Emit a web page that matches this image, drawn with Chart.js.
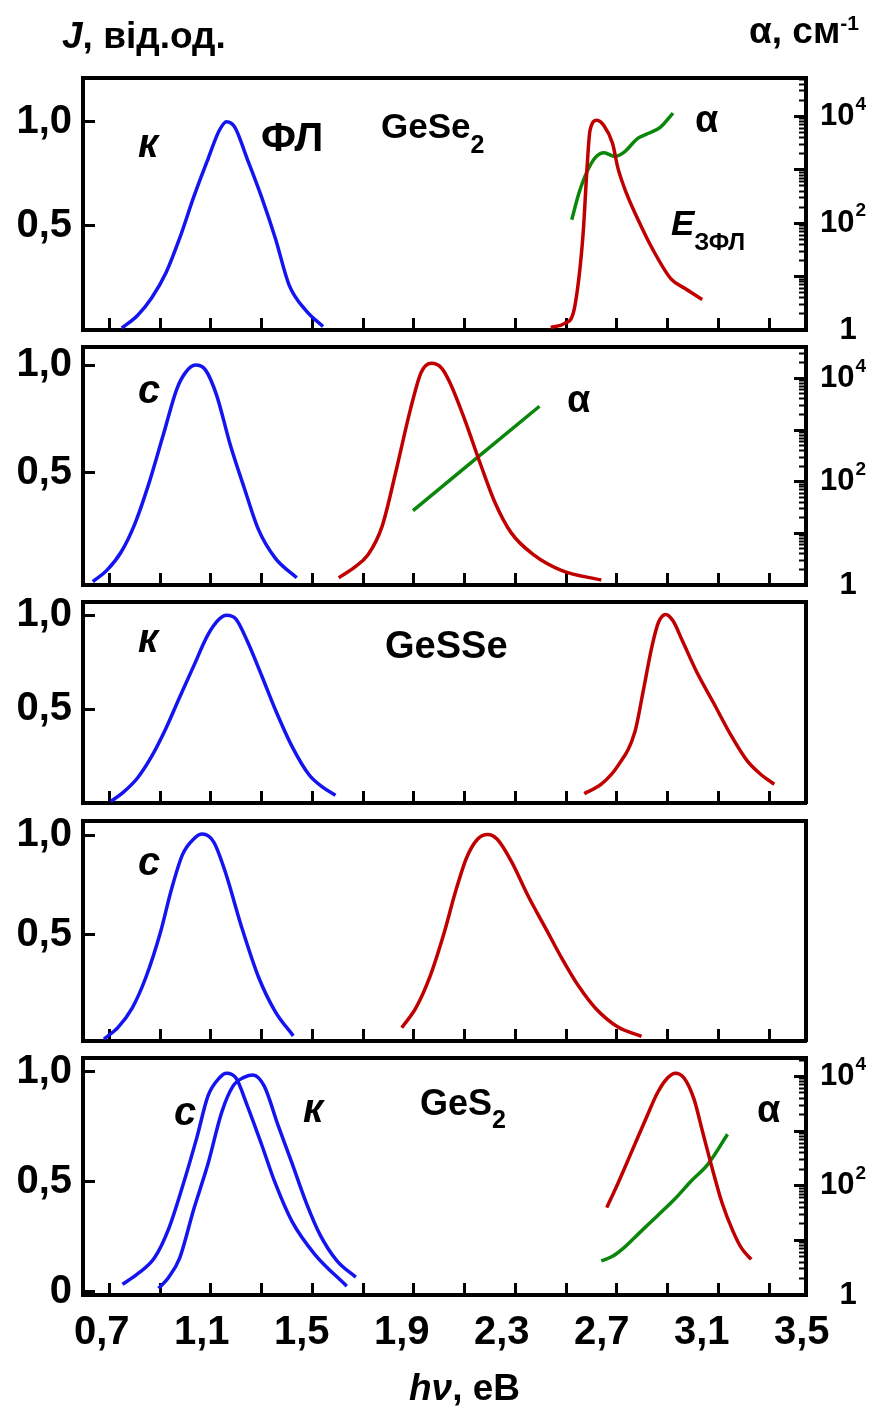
<!DOCTYPE html>
<html>
<head>
<meta charset="utf-8">
<script src="https://cdn.jsdelivr.net/npm/chart.js@4.4.0/dist/chart.umd.min.js"></script>
<style>
  body { margin: 0; background: #fff; }
  #wrap { position: relative; width: 881px; height: 1408px; overflow: hidden;
          font-family: "Liberation Sans", Arial, sans-serif; font-weight: bold; color: #000; }
  canvas { position: absolute; left: 0; }
  .t { position: absolute; white-space: nowrap; line-height: 1; }
  .t span { line-height: 0; }
</style>
</head>
<body>
<div id="wrap"></div>
<script>
// photon energy axis, eV
var xMin = 0.625, xMax = 3.517;
var xLabels = [0.7, 1.1, 1.5, 1.9, 2.3, 2.7, 3.1, 3.5];
// tick marks as drawn in the original (not on the label grid)
var xTickStart = 0.73, xTickStep = 0.203, xTickCount = 14;
var jTicks = [0.5, 1.0];
var jTicksBottom = [0, 0.5, 1.0];
// absorption axis labels: mantissa + power
var alphaTicks = [1, 100, 10000];
var alphaTickBase = ['1', '10', '10'];
var alphaTickPow = ['', '2', '4'];

// GeSe2, K
var p1BlueE = [0.780, 0.843, 0.900, 0.957, 1.012, 1.068, 1.125, 1.170, 1.199, 1.232, 1.282, 1.339, 1.394, 1.450, 1.518, 1.585];
var p1BlueJ = [0.009, 0.070, 0.155, 0.275, 0.442, 0.639, 0.821, 0.958, 1.000, 0.974, 0.821, 0.639, 0.442, 0.214, 0.092, 0.017];
var p1RedE = [2.496, 2.552, 2.585, 2.608, 2.626, 2.641, 2.653, 2.680, 2.709, 2.743, 2.765, 2.799, 2.844, 2.900, 2.978, 3.035, 3.102];
var p1RedJ = [0.012, 0.032, 0.077, 0.244, 0.472, 0.776, 0.958, 1.007, 0.981, 0.897, 0.776, 0.656, 0.533, 0.396, 0.244, 0.198, 0.146];
var p1GreenE = [2.580, 2.608, 2.641, 2.675, 2.709, 2.753, 2.787, 2.844, 2.877, 2.934, 2.985];
var p1GreenA = [116, 356, 925, 1710, 2094, 1778, 2094, 3873, 4613, 6252, 11535];

// GeSe2, C
var p2BlueE = [0.664, 0.720, 0.777, 0.832, 0.889, 0.945, 1.001, 1.034, 1.075, 1.114, 1.159, 1.214, 1.271, 1.327, 1.394, 1.480];
var p2BlueJ = [-0.004, 0.048, 0.132, 0.263, 0.453, 0.673, 0.892, 0.965, 1.001, 0.980, 0.863, 0.631, 0.427, 0.237, 0.105, 0.014];
var p2RedE = [1.648, 1.709, 1.765, 1.821, 1.878, 1.934, 1.978, 2.019, 2.057, 2.091, 2.147, 2.214, 2.271, 2.338, 2.428, 2.541, 2.698];
var p2RedJ = [0.014, 0.061, 0.120, 0.251, 0.514, 0.792, 0.968, 1.009, 0.990, 0.924, 0.763, 0.544, 0.368, 0.222, 0.120, 0.047, 0.003];
var p2GreenE = [1.945, 2.451];
var p2GreenA = [27.5, 2890];

// GeSSe, K
var p3BlueE = [0.736, 0.787, 0.843, 0.900, 0.957, 1.012, 1.068, 1.125, 1.170, 1.199, 1.237, 1.282, 1.339, 1.394, 1.462, 1.530, 1.585, 1.635];
var p3BlueJ = [0.008, 0.058, 0.133, 0.249, 0.398, 0.564, 0.730, 0.896, 0.979, 1.000, 0.979, 0.862, 0.680, 0.498, 0.299, 0.149, 0.083, 0.041];
var p3RedE = [2.630, 2.698, 2.765, 2.833, 2.866, 2.900, 2.927, 2.956, 2.985, 3.023, 3.080, 3.148, 3.215, 3.282, 3.339, 3.390];
var p3RedJ = [0.050, 0.100, 0.199, 0.381, 0.597, 0.829, 0.962, 1.004, 0.970, 0.862, 0.697, 0.531, 0.365, 0.224, 0.149, 0.100];

// GeSSe, C
var p4BlueE = [0.709, 0.766, 0.821, 0.877, 0.934, 0.979, 1.023, 1.068, 1.102, 1.148, 1.192, 1.259, 1.327, 1.394, 1.466];
var p4BlueJ = [-0.025, 0.035, 0.129, 0.287, 0.508, 0.729, 0.903, 0.982, 1.006, 0.966, 0.824, 0.540, 0.287, 0.113, -0.009];
var p4RedE = [1.900, 1.956, 2.012, 2.069, 2.114, 2.159, 2.203, 2.244, 2.282, 2.338, 2.405, 2.473, 2.541, 2.608, 2.675, 2.765, 2.859];
var p4RedJ = [0.032, 0.130, 0.286, 0.507, 0.712, 0.886, 0.980, 1.004, 0.980, 0.870, 0.696, 0.538, 0.380, 0.240, 0.130, 0.035, -0.012];

// GeS2, C and K
var p5BlueCE = [0.783, 0.843, 0.911, 0.968, 1.023, 1.080, 1.125, 1.170, 1.199, 1.237, 1.282, 1.339, 1.394, 1.462, 1.552, 1.680];
var p5BlueCJ = [0.034, 0.081, 0.154, 0.287, 0.478, 0.699, 0.890, 0.971, 0.993, 0.971, 0.846, 0.670, 0.493, 0.317, 0.170, 0.025];
var p5BlueKE = [0.927, 0.968, 1.012, 1.068, 1.125, 1.180, 1.225, 1.271, 1.305, 1.350, 1.405, 1.462, 1.518, 1.574, 1.641, 1.716];
var p5BlueKJ = [0.015, 0.066, 0.154, 0.375, 0.581, 0.816, 0.934, 0.975, 0.985, 0.934, 0.757, 0.581, 0.404, 0.257, 0.140, 0.066];
var p5RedE = [2.720, 2.765, 2.821, 2.877, 2.923, 2.962, 2.994, 3.030, 3.069, 3.103, 3.137, 3.181, 3.226, 3.259, 3.298];
var p5RedJ = [0.382, 0.493, 0.640, 0.787, 0.904, 0.970, 0.993, 0.970, 0.875, 0.728, 0.581, 0.404, 0.272, 0.198, 0.147];
var p5GreenE = [2.698, 2.743, 2.787, 2.855, 2.923, 2.990, 3.057, 3.125, 3.203];
var p5GreenA = [4.2, 5.1, 7.2, 14.3, 28.3, 56, 121, 249, 875];

var BLUE = '#1414f0', RED = '#c00000', GREEN = '#0a870a';
var PAD = 40;
var FONT = '"Liberation Sans", Arial, sans-serif';

Chart.defaults.font.family = FONT;
Chart.defaults.color = '#000';

function pts(xs, ys) {
  return xs.map(function (x, i) { return {x: x, y: ys[i]}; });
}
function line(xs, ys, color, axis) {
  return {
    data: pts(xs, ys), borderColor: color, borderWidth: 3.5, showLine: true,
    pointRadius: 0, cubicInterpolationMode: 'monotone', yAxisID: axis || 'y', clip: false
  };
}
function comma(v) { return v === 0 ? '0' : v.toFixed(1).replace('.', ','); }

// 10^n labels on the log axis, with a raised power
var alphaLabels = {
  id: 'alphaLabels',
  afterDraw: function (chart, args, opts) {
    if (!opts.show) return;
    var s = chart.scales.a, ctx = chart.ctx;
    ctx.save();
    ctx.fillStyle = '#000';
    ctx.textBaseline = 'middle';
    alphaTicks.forEach(function (v, i) {
      var y = s.getPixelForValue(v);
      ctx.font = 'bold 31px ' + FONT;
      if (!alphaTickPow[i]) {
        ctx.textAlign = 'center';
        ctx.fillText(alphaTickBase[i], s.left + 42, y);
        return;
      }
      ctx.textAlign = 'left';
      ctx.fillText(alphaTickBase[i], s.left + 14, y);
      var w = ctx.measureText(alphaTickBase[i]).width;
      ctx.font = 'bold 19px ' + FONT;
      ctx.fillText(alphaTickPow[i], s.left + 15 + w, y - 12);
    });
    ctx.restore();
  }
};

var panels = [
  {top: 71, bottom: 337, jMin: 0, jMax: 1.21, aMax: 52500, ticks: jTicks,
   sets: [line(p1BlueE, p1BlueJ, BLUE), line(p1RedE, p1RedJ, RED), line(p1GreenE, p1GreenA, GREEN, 'a')]},
  {top: 340, bottom: 592, jMin: -0.02, jMax: 1.085, aMax: 40500, ticks: jTicks,
   sets: [line(p2BlueE, p2BlueJ, BLUE), line(p2RedE, p2RedJ, RED), line(p2GreenE, p2GreenA, GREEN, 'a')]},
  {top: 595, bottom: 810, jMin: 0, jMax: 1.07, aMax: null, ticks: jTicks,
   sets: [line(p3BlueE, p3BlueJ, BLUE), line(p3RedE, p3RedJ, RED)]},
  {top: 814, bottom: 1048, jMin: -0.035, jMax: 1.072, aMax: null, ticks: jTicks,
   sets: [line(p4BlueE, p4BlueJ, BLUE), line(p4RedE, p4RedJ, RED)]},
  {top: 1051, bottom: 1295, jMin: -0.015, jMax: 1.062, aMax: 21800, ticks: jTicksBottom, last: true,
   sets: [line(p5BlueCE, p5BlueCJ, BLUE), line(p5BlueKE, p5BlueKJ, BLUE), line(p5RedE, p5RedJ, RED), line(p5GreenE, p5GreenA, GREEN, 'a')]}
];

var wrap = document.getElementById('wrap');
var BORDER = {display: true, color: '#000', width: 4};

panels.forEach(function (p) {
  var cv = document.createElement('canvas');
  var h = p.bottom - p.top + PAD + (p.last ? 90 : PAD);
  cv.width = 881; cv.height = h;
  cv.style.top = (p.top - PAD) + 'px';
  wrap.appendChild(cv);

  var hasA = !!p.aMax;
  new Chart(cv, {
    type: 'scatter',
    data: {datasets: p.sets},
    plugins: [alphaLabels],
    options: {
      responsive: false, animation: false, devicePixelRatio: 1,
      layout: {padding: {top: PAD, bottom: p.last ? 30 : PAD, left: 0, right: 0}},
      plugins: {legend: {display: false}, tooltip: {enabled: false}, alphaLabels: {show: hasA}},
      scales: {
        xt: {
          axis: 'x', type: 'linear', position: 'bottom', weight: 0, min: xMin, max: xMax,
          afterBuildTicks: function (s) {
            var t = [];
            for (var k = 0; k < xTickCount; k++) t.push({value: xTickStart + k * xTickStep});
            s.ticks = t;
          },
          afterFit: function (s) { s.height = 0; },
          ticks: {display: false}, border: {display: false},
          grid: {drawOnChartArea: false, drawTicks: true, tickLength: -12, tickWidth: 3, tickColor: '#000'}
        },
        x: {
          type: 'linear', position: 'bottom', weight: 1, min: xMin, max: xMax,
          afterBuildTicks: function (s) { s.ticks = xLabels.map(function (v) { return {value: v}; }); },
          afterFit: function (s) { s.height = p.last ? 60 : 0; },
          ticks: {display: !!p.last, autoSkip: false, maxRotation: 0, padding: 14,
                  font: {size: 40, weight: 'bold'}, color: '#000', callback: function (v) { return comma(v); }},
          border: BORDER,
          grid: {drawOnChartArea: false, drawTicks: false}
        },
        xtop: {
          axis: 'x', type: 'linear', position: 'top', min: 0, max: 1,
          afterFit: function (s) { s.height = 0; },
          ticks: {display: false}, border: BORDER,
          grid: {drawOnChartArea: false, drawTicks: false}
        },
        y: {
          type: 'linear', position: 'left', min: p.jMin, max: p.jMax,
          afterBuildTicks: function (s) { s.ticks = p.ticks.map(function (v) { return {value: v}; }); },
          afterFit: function (s) { s.width = 83; },
          ticks: {padding: 23, font: {size: 40, weight: 'bold'}, color: '#000', callback: function (v) { return comma(v); }},
          border: BORDER,
          grid: {drawOnChartArea: false, tickLength: -12, tickWidth: 3, tickColor: '#000'}
        },
        am: {
          axis: 'y', type: 'logarithmic', position: 'right', weight: 0, min: 1, max: p.aMax || 10,
          afterBuildTicks: function (s) {
            var t = [];
            for (var e = 0; e < 5; e++) for (var m = 1; m < 10; m++) {
              var v = m * Math.pow(10, e);
              if (v <= s.max) t.push({value: v});
            }
            s.ticks = t;
          },
          afterFit: function (s) { s.width = 0; },
          ticks: {display: false}, border: {display: false},
          grid: {display: hasA, drawOnChartArea: false, tickLength: -7, tickWidth: 2, tickColor: '#000'}
        },
        a: {
          axis: 'y', type: 'logarithmic', position: 'right', weight: 1, min: 1, max: p.aMax || 10,
          afterBuildTicks: function (s) {
            var t = [];
            for (var e = 0; e < 5; e++) { var v = Math.pow(10, e); if (v <= s.max) t.push({value: v, major: true}); }
            s.ticks = t;
          },
          afterFit: function (s) { s.width = 75; },
          ticks: {display: false},
          border: BORDER,
          grid: {display: hasA, drawOnChartArea: false, tickLength: -12, tickWidth: 3, tickColor: '#000'}
        }
      }
    }
  });
});

// titles and curve labels: [html, left x, baseline y, font size]
var notes = [
  ['<i>J</i>, від.од.', 62, 48, 37],
  ['α, см<span style="font-size:21px;vertical-align:13px">-1</span>', 749, 43, 37],
  ['<i>hν</i>, еВ', 409, 1400, 37],
  ['<i>к</i>', 138, 157, 40],
  ['ФЛ', 261, 152, 41],
  ['GeSe<span style="font-size:25px;vertical-align:-15px">2</span>', 381, 138, 35],
  ['α', 695, 132, 38],
  ['<i>E</i><span style="font-size:24px;vertical-align:-15px">ЗФЛ</span>', 671, 235, 35],
  ['<i>с</i>', 138, 403, 40],
  ['α', 567, 412, 38],
  ['<i>к</i>', 138, 652, 40],
  ['GeSSe', 385, 658, 38],
  ['<i>с</i>', 138, 875, 40],
  ['<i>с</i>', 174, 1125, 40],
  ['<i>к</i>', 303, 1122, 40],
  ['GeS<span style="font-size:25px;vertical-align:-13px">2</span>', 420, 1115, 36],
  ['α', 757, 1122, 38]
];
notes.forEach(function (n) {
  var d = document.createElement('div');
  d.className = 't';
  d.innerHTML = n[0];
  d.style.left = n[1] + 'px';
  d.style.top = (n[2] - 0.8465 * n[3]) + 'px';
  d.style.fontSize = n[3] + 'px';
  wrap.appendChild(d);
});
</script>
</body>
</html>
